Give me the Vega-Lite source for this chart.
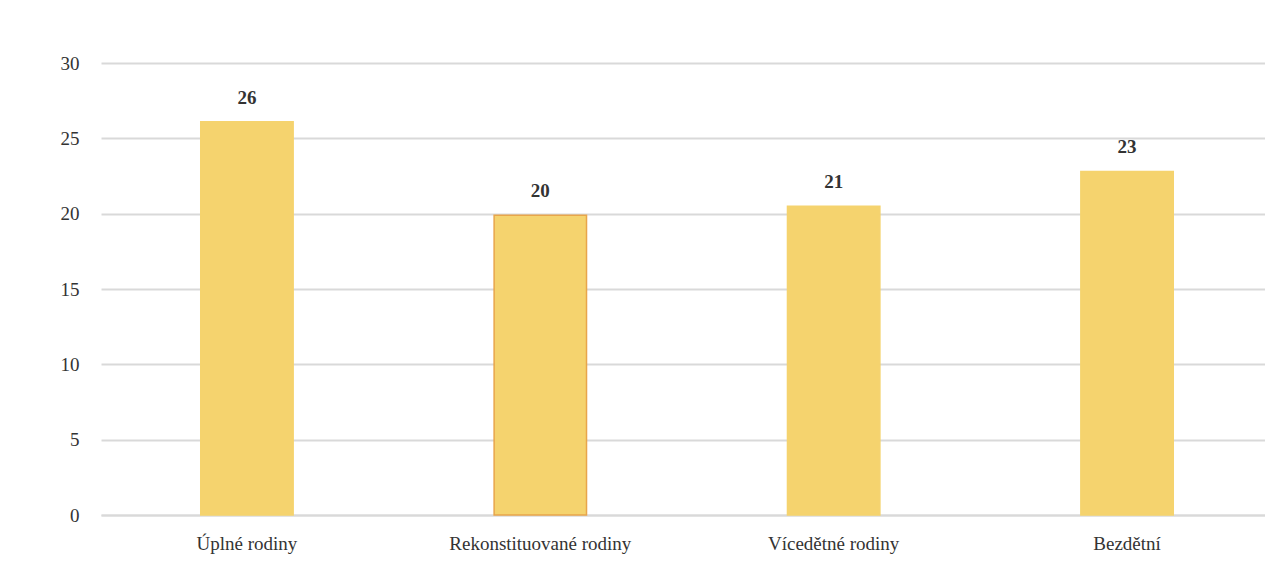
{
  "$schema": "https://vega.github.io/schema/vega-lite/v6.json",
  "width": 1172,
  "height": 452,
  "autosize": "none",
  "padding": {"left": 101, "top": 63, "right": 0, "bottom": 52},
  "background": "white",
  "config": {"view": {"stroke": null}, "font": "Liberation Serif"},
  "data": {"values": [
    {"kat": "Úplné rodiny", "val": 26.1, "lab": "26", "hl": "no"},
    {"kat": "Rekonstituované rodiny", "val": 19.9, "lab": "20", "hl": "yes"},
    {"kat": "Vícedětné rodiny", "val": 20.5, "lab": "21", "hl": "no"},
    {"kat": "Bezdětní", "val": 22.8, "lab": "23", "hl": "no"}
  ]},
  "encoding": {
    "x": {"field": "kat", "type": "nominal", "sort": null,
      "scale": {"paddingInner": 0.685, "paddingOuter": 0.34},
      "axis": {"title": null, "labelAngle": 0, "labelFontSize": 19, "labelLimit": 400, "labelColor": "#333333", "labelPadding": 19, "ticks": false, "domain": true, "domainColor": "#D9D9D9", "domainWidth": 2, "labelFont": "Liberation Serif"}},
    "y": {"field": "val", "type": "quantitative",
      "scale": {"domain": [0, 30], "nice": false},
      "axis": {"title": null, "values": [0, 5, 10, 15, 20, 25, 30], "grid": true, "gridColor": "#D9D9D9", "gridWidth": 2, "domain": false, "ticks": false, "labelPadding": 22, "labelFontSize": 19, "labelColor": "#333333", "labelFont": "Liberation Serif"}}
  },
  "layer": [
    {"mark": {"type": "bar"},
     "encoding": {
       "color": {"value": "#F5D36E"},
       "stroke": {"field": "hl", "type": "nominal", "scale": {"domain": ["no", "yes"], "range": ["#F5D36E", "#E8A54B"]}, "legend": null},
       "strokeWidth": {"value": 1.5}
     }},
    {"mark": {"type": "text", "dy": -24, "fontSize": 19, "color": "#333333", "fontWeight": "bold", "font": "Liberation Serif"},
     "encoding": {"text": {"field": "lab"}}}
  ]
}
